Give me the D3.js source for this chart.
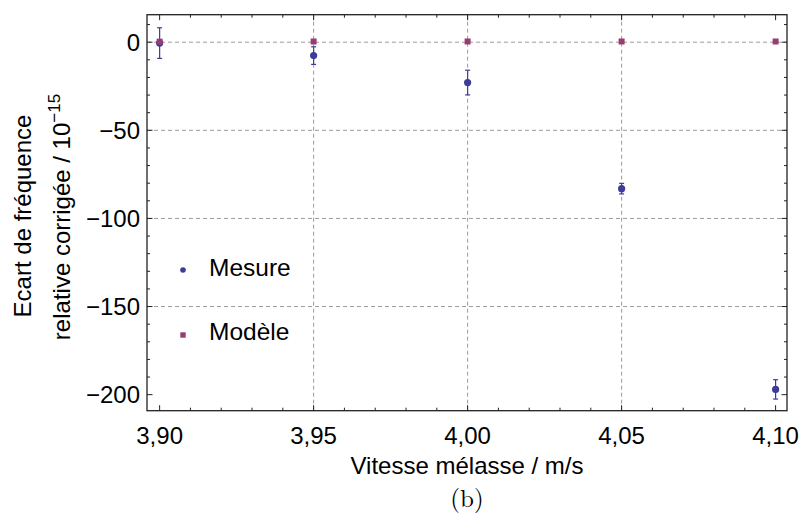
<!DOCTYPE html>
<html>
<head>
<meta charset="utf-8">
<script src="https://cdn.jsdelivr.net/npm/d3@7"></script>
<style>
  html, body { margin: 0; padding: 0; background: #fff; }
  svg { display: block; }
  text { font-family: "Liberation Sans", Arial, Helvetica, sans-serif; fill: #000; }
</style>
</head>
<body>
<svg id="chart" width="801" height="520"></svg>
<script>
// Vitesse de mélasse (m/s)
const speeds = [3.90, 3.95, 4.00, 4.05, 4.10];
// Écart de fréquence mesuré (×1e-15) et son incertitude
const mesure = [-0.5, -7.6, -22.9, -83.1, -197];
const mesureErr = [8.7, 5, 7, 3, 5.5];
// Écart prédit par le modèle (×1e-15)
const modele = [0.3, 0.4, 0.4, 0.4, 0.4];

const xTickValues = [3.90, 3.95, 4.00, 4.05, 4.10];
const xTickLabels = ["3,90", "3,95", "4,00", "4,05", "4,10"];
const yTickValues = [0, -50, -100, -150, -200];
const yTickLabels = ["0", "\u221250", "\u2212100", "\u2212150", "\u2212200"];
const xGridValues = [3.95, 4.00, 4.05];
const yGridValues = [0, -50, -100, -150];

const colMesure = "#3d3d99";
const colModele = "#993d71";

const svg = d3.select("#chart");
const L = 147, R = 787, T = 14.7, B = 410.7;

const x = d3.scaleLinear().domain([3.8959, 4.1037]).range([L, R]);
const y = d3.scaleLinear().domain([-209.1, 15.6]).range([B, T]);

// grid
const grid = svg.append("g").attr("stroke", "#9c9c9c").attr("stroke-width", 1)
  .attr("stroke-dasharray", "4,3").attr("fill", "none");
grid.selectAll(".gx").data(xGridValues).join("line")
  .attr("x1", d => x(d)).attr("x2", d => x(d)).attr("y1", T).attr("y2", B);
grid.selectAll(".gy").data(yGridValues).join("line")
  .attr("x1", L).attr("x2", R).attr("y1", d => y(d)).attr("y2", d => y(d));

// frame ticks (inward, on all four sides)
const xMinor = d3.range(390, 411, 1).map(v => v / 100);
const yMinor = d3.range(-200, 11, 10);
const tk = svg.append("g").attr("stroke", "#222").attr("stroke-width", 1);
xMinor.forEach(v => {
  const major = Math.abs(Math.round(v * 100) % 5) === 0;
  const len = major ? 5.5 : 3;
  tk.append("line").attr("x1", x(v)).attr("x2", x(v)).attr("y1", B).attr("y2", B - len);
  tk.append("line").attr("x1", x(v)).attr("x2", x(v)).attr("y1", T).attr("y2", T + len);
});
yMinor.forEach(v => {
  const major = v % 50 === 0;
  const len = major ? 5.5 : 3;
  tk.append("line").attr("y1", y(v)).attr("y2", y(v)).attr("x1", L).attr("x2", L + len);
  tk.append("line").attr("y1", y(v)).attr("y2", y(v)).attr("x1", R).attr("x2", R - len);
});

// frame
svg.append("rect").attr("x", L).attr("y", T).attr("width", R - L).attr("height", B - T)
  .attr("fill", "none").attr("stroke", "#222").attr("stroke-width", 1.3);

// tick labels
svg.append("g").selectAll("text").data(xTickValues).join("text")
  .attr("x", d => x(d)).attr("y", 444).attr("text-anchor", "middle")
  .attr("font-size", 24).text((d, i) => xTickLabels[i]);
svg.append("g").selectAll("text").data(yTickValues).join("text")
  .attr("x", 140).attr("y", d => y(d)).attr("dy", "0.36em").attr("text-anchor", "end")
  .attr("font-size", 24).text((d, i) => yTickLabels[i]);

// axis titles
svg.append("text").attr("x", (L + R) / 2).attr("y", 474).attr("text-anchor", "middle")
  .attr("font-size", 24).text("Vitesse mélasse / m/s");
svg.append("text").attr("transform", "translate(30.5,216) rotate(-90)")
  .attr("text-anchor", "middle").attr("font-size", 24).text("Ecart de fréquence");
const yl2 = svg.append("text").attr("transform", "translate(70,217) rotate(-90)")
  .attr("text-anchor", "middle").attr("font-size", 24);
yl2.append("tspan").text("relative corrigée / 10");
yl2.append("tspan").attr("font-size", 17).attr("dy", -10).text("\u221215");

// caption
svg.append("text").attr("x", (L + R) / 2).attr("y", 507).attr("text-anchor", "middle")
  .attr("font-size", 25)
  .style("font-family", "'Latin Modern Roman','CMU Serif','Liberation Serif','DejaVu Serif',serif")
  .text("(b)");

// measured points with error bars
const eb = svg.append("g").attr("stroke", colMesure).attr("stroke-width", 1.2);
speeds.forEach((s, i) => {
  const cx = x(s), y1 = y(mesure[i] + mesureErr[i]), y2 = y(mesure[i] - mesureErr[i]);
  eb.append("line").attr("x1", cx).attr("x2", cx).attr("y1", y1).attr("y2", y2);
  eb.append("line").attr("x1", cx - 2.5).attr("x2", cx + 2.5).attr("y1", y1).attr("y2", y1);
  eb.append("line").attr("x1", cx - 2.5).attr("x2", cx + 2.5).attr("y1", y2).attr("y2", y2);
});
svg.append("g").selectAll("circle").data(speeds).join("circle")
  .attr("cx", d => x(d)).attr("cy", (d, i) => y(mesure[i])).attr("r", 3.6)
  .attr("fill", colMesure);

// model points, drawn over the measurements
svg.append("g").selectAll("rect").data(speeds).join("rect")
  .attr("x", d => x(d) - 3).attr("y", (d, i) => y(modele[i]) - 3)
  .attr("width", 6).attr("height", 6).attr("fill", colModele);

// legend
const lg = svg.append("g");
lg.append("circle").attr("cx", 183).attr("cy", 270).attr("r", 2.8).attr("fill", colMesure);
lg.append("text").attr("x", 209).attr("y", 276).attr("font-size", 24.5).text("Mesure");
lg.append("rect").attr("x", 180.3).attr("y", 332.3).attr("width", 5.4).attr("height", 5.4).attr("fill", colModele);
lg.append("text").attr("x", 209).attr("y", 340).attr("font-size", 24.5).text("Modèle");
</script>
</body>
</html>
